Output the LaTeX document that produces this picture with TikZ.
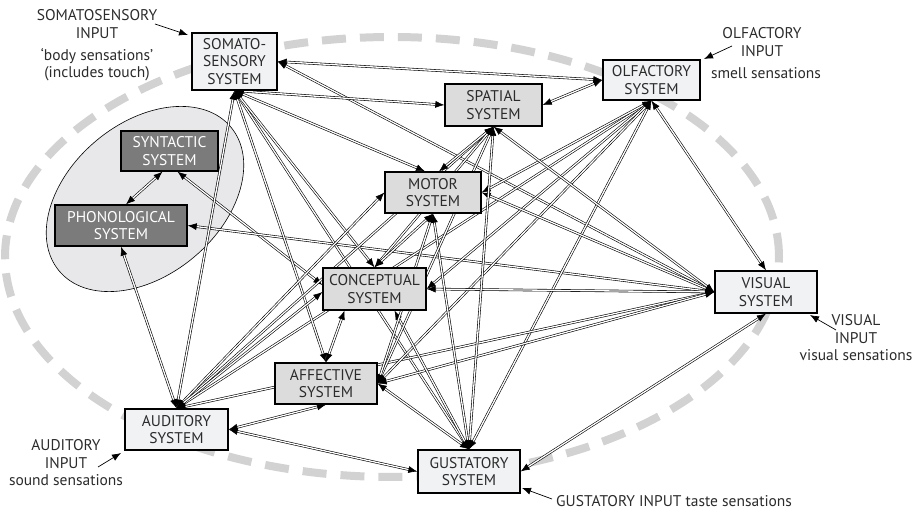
\documentclass[tikz,border=0pt]{standalone}
\usepackage{fontspec}
\setmainfont{PT Sans}
\usetikzlibrary{arrows.meta}
\pgfdeclarelayer{back}
\pgfdeclarelayer{wires}
\pgfsetlayers{back,wires,main}
\definecolor{modfill}{HTML}{F1F2F4}
\definecolor{cenfill}{HTML}{DCDCDD}
\definecolor{langfill}{HTML}{7B7B7C}
\definecolor{zonefill}{HTML}{E8E8EA}
\definecolor{ringgray}{HTML}{D2D2D3}
\definecolor{ink}{HTML}{2B2B2B}
\tikzset{
  sysbox/.style={draw=black, line width=1.3pt, align=center, inner sep=0pt,
    text=ink, font=\fontsize{15.5}{17.5}\selectfont},
  modbox/.style={sysbox, fill=modfill},
  cenbox/.style={sysbox, fill=cenfill},
  langbox/.style={sysbox, fill=langfill, text=white},
  lbl/.style={align=center, inner sep=0pt, text=ink, font=\fontsize{15.5}{17.5}\selectfont},
  link/.style={>={Latex[length=9pt,width=7pt]}, <->, draw=black,
    line width=0.6pt, double=white, double distance=1.3pt},
  inarrow/.style={-{Latex[length=9pt,width=7pt]}, draw=black, line width=0.7pt},
  dashring/.style={draw=ringgray, line width=8pt, dash pattern=on 24pt off 14pt},
  langzone/.style={draw=black, line width=0.6pt, fill=zonefill}
}
\begin{document}
\begin{tikzpicture}[x=1pt,y=-1pt]
\useasboundingbox (0,0) rectangle (919,510);

% modality systems
\node[modbox, minimum width=85pt, minimum height=57pt] (som) at (234.5,61.5) {SOMATO-\\SENSORY\\SYSTEM};
\node[modbox, minimum width=97pt, minimum height=40pt] (olf) at (651.5,80) {OLFACTORY\\SYSTEM};
\node[modbox, minimum width=102pt, minimum height=42pt] (vis) at (766,292) {VISUAL\\SYSTEM};
\node[modbox, minimum width=103pt, minimum height=41pt] (aud) at (176.5,429.5) {AUDITORY\\SYSTEM};
\node[modbox, minimum width=102pt, minimum height=43pt] (gus) at (469,471.5) {GUSTATORY\\SYSTEM};

% central systems
\node[cenbox, minimum width=97pt, minimum height=42pt] (spa) at (493.5,105) {SPATIAL\\SYSTEM};
\node[cenbox, minimum width=96pt, minimum height=41pt] (mot) at (433,192.5) {MOTOR\\SYSTEM};
\node[cenbox, minimum width=103pt, minimum height=42pt] (con) at (374.5,289) {CONCEPTUAL\\SYSTEM};
\node[cenbox, minimum width=102pt, minimum height=41pt] (aff) at (326,383.5) {AFFECTIVE\\SYSTEM};

% language systems
\node[langbox, minimum width=97pt, minimum height=40pt] (syn) at (169.5,151) {SYNTACTIC\\SYSTEM};
\node[langbox, minimum width=132pt, minimum height=41pt] (pho) at (121,225.5) {PHONOLOGICAL\\SYSTEM};

% input labels
\node[lbl] (somin) at (97,24) {SOMATOSENSORY\\INPUT};
\node[lbl] (somnote) at (97,64.5) {‘body sensations’\\(includes touch)};
\node[lbl] (olfin) at (762,42) {OLFACTORY\\INPUT};
\node[lbl] (olfnote) at (766,73) {smell sensations};
\node[lbl] (visin) at (856,338) {VISUAL\\INPUT\\visual sensations};
\node[lbl] (audin) at (66,463) {AUDITORY\\INPUT\\sound sensations};
\node[lbl, anchor=west] (gusin) at (556,501) {GUSTATORY INPUT taste sensations};

\coordinate (somtail) at (155,24);
\coordinate (somtip) at (188,35);
\coordinate (olftail) at (732,46);
\coordinate (olftip) at (704,59);
\coordinate (vistail) at (836,330);
\coordinate (vistip) at (810,315);
\coordinate (audtail) at (98,467);
\coordinate (audtip) at (121,453);
\coordinate (gustail) at (552,499);
\coordinate (gustip) at (522,488);
\draw[inarrow] (somtail) -- (somtip);
\draw[inarrow] (olftail) -- (olftip);
\draw[inarrow] (vistail) -- (vistip);
\draw[inarrow] (audtail) -- (audtip);
\draw[inarrow] (gustail) -- (gustip);

% shifted anchor points
\coordinate (synA) at ([xshift=-7pt]syn.south);
\coordinate (synB) at ([xshift=8pt]syn.south);
\coordinate (phoN) at ([xshift=5pt]pho.north);
\coordinate (conWu) at ([yshift=4pt]con.west);
\coordinate (conWd) at ([yshift=-3pt]con.west);
\coordinate (conSL) at ([xshift=-30pt]con.south);
\coordinate (conSR) at ([xshift=20pt]con.south);
\coordinate (motNL) at ([xshift=-8pt]mot.north);
\coordinate (motNR) at ([xshift=6pt]mot.north);

\begin{pgfonlayer}{back}
  \draw[dashring] (392,257) ellipse [x radius=387pt, y radius=220pt];
  \draw[langzone, rotate around={40:(145,199)}] (145,199) ellipse [x radius=112pt, y radius=76pt];
\end{pgfonlayer}

\begin{pgfonlayer}{wires}
  \foreach \a/\b in {
    synA/phoN, synB/conWu, pho.east/vis.west, pho.south/aud.north,
    som.east/olf.west, som.south/aud.north, som.south/gus.north, som.east/vis.west,
    olf.south/vis.north, olf.south/aud.north, olf.south/gus.north,
    vis.west/aud.north, vis.south/gus.east, aud.east/gus.west,
    som.south/spa.west, som.south/motNL, som.south/con.north, som.south/aff.north,
    olf.west/spa.east, olf.south/mot.east, olf.south/con.east, olf.south/aff.east,
    vis.west/spa.south, vis.west/mot.east, vis.west/con.east, vis.west/aff.east,
    aud.north/spa.south, aud.north/mot.west, aud.north/conWd, aud.east/aff.south,
    gus.north/spa.south, gus.north/mot.south, gus.north/conSR, gus.north/aff.east,
    spa.south/motNR, spa.south/con.north, spa.south/aff.east,
    mot.south/con.north, mot.south/aff.east, conSL/aff.north}
    \draw[link] (\a) -- (\b);
\end{pgfonlayer}
\end{tikzpicture}
\end{document}
